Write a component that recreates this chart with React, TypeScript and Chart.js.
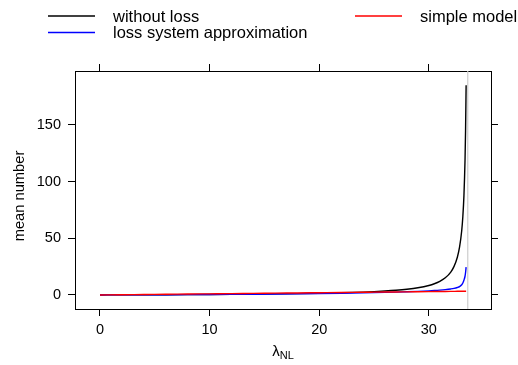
import React, { useEffect, useRef } from "react";
import { Chart, registerables } from "chart.js";

Chart.register(...registerables);

const lambdaValues = [0, 2, 4, 6, 8, 10, 12, 14, 16, 18, 20, 22, 24, 25, 26, 27, 28, 29, 30, 30.5, 31, 31.5, 32, 32.3, 32.6, 32.8, 33, 33.1, 33.2, 33.3, 33.35, 33.4];
const withoutLoss = [0, 0.063, 0.135, 0.218, 0.313, 0.424, 0.556, 0.715, 0.91, 1.155, 1.473, 1.9, 2.5, 2.91, 3.43, 4.1, 5.02, 6.33, 8.38, 9.9, 12.0, 15.1, 20.2, 25.2, 33.3, 42.1, 56.9, 69.0, 87.4, 118.9, 145.0, 185.0];
const lossApprox = [0, 0.06, 0.13, 0.21, 0.3, 0.41, 0.53, 0.67, 0.83, 1.02, 1.25, 1.52, 1.85, 2.05, 2.27, 2.52, 2.82, 3.18, 3.62, 3.9, 4.25, 4.7, 5.3, 5.8, 6.6, 7.4, 9.0, 10.5, 13.0, 16.5, 19.8, 24.5];
const simpleModel = [0, 0.2, 0.39, 0.59, 0.78, 0.98, 1.18, 1.37, 1.57, 1.76, 1.96, 2.16, 2.35, 2.45, 2.55, 2.65, 2.74, 2.84, 2.94, 2.99, 3.04, 3.09, 3.14, 3.17, 3.2, 3.21, 3.23, 3.24, 3.25, 3.26, 3.27, 3.27];
const capacityLimit = 33.55;

const seriesNames = ["without loss", "loss system approximation", "simple model"];
const seriesColors = ["#000000", "#0000ff", "#ff0000"];
const yTickValues = [0, 50, 100, 150];
const xTickValues = [0, 10, 20, 30];
const xRange = [-2.28, 35.67];
const yRange = [-12.4, 197.6];
const xTitle = "λ";
const xTitleSub = "NL";
const yTitle = "mean number";

const FONT = "'Liberation Sans', Arial, Helvetica, sans-serif";

const decorPlugin = {
  id: "decor",
  afterDraw(chart: any) {
    const ctx = chart.ctx;
    ctx.save();
    // legend
    const items = [
      { x: 48, y: 16, name: seriesNames[0], color: seriesColors[0] },
      { x: 48, y: 32.5, name: seriesNames[1], color: seriesColors[1] },
      { x: 355, y: 16, name: seriesNames[2], color: seriesColors[2] },
    ];
    ctx.font = `16.5px ${FONT}`;
    ctx.textBaseline = "middle";
    ctx.textAlign = "left";
    for (const it of items) {
      ctx.strokeStyle = it.color;
      ctx.lineWidth = 1.5;
      ctx.beginPath();
      ctx.moveTo(it.x, it.y);
      ctx.lineTo(it.x + 47, it.y);
      ctx.stroke();
      ctx.fillStyle = "#000";
      ctx.fillText(it.name, it.x + 65, it.y + 1);
    }
    // x title with subscript
    const area = chart.chartArea;
    const cx = (area.left + area.right) / 2;
    ctx.font = `15px ${FONT}`;
    const w1 = ctx.measureText(xTitle).width;
    ctx.font = `11px ${FONT}`;
    const w2 = ctx.measureText(xTitleSub).width;
    const start = cx - (w1 + w2) / 2;
    ctx.textBaseline = "alphabetic";
    ctx.font = `15px ${FONT}`;
    ctx.fillText(xTitle, start, 356);
    ctx.font = `11px ${FONT}`;
    ctx.fillText(xTitleSub, start + w1, 359);
    // y title
    ctx.translate(20, 196);
    ctx.rotate(-Math.PI / 2);
    ctx.font = `14.7px ${FONT}`;
    ctx.textAlign = "center";
    ctx.textBaseline = "middle";
    ctx.fillText(yTitle, 0, 0);
    ctx.restore();
  },
};

const axisGrid = {
  display: true,
  drawOnChartArea: false,
  drawTicks: true,
  tickLength: 7,
  color: "#000",
  lineWidth: 1,
};

export default function App() {
  const ref = useRef<HTMLCanvasElement>(null);
  useEffect(() => {
    if (!ref.current) return;
    const mk = (ys: number[]) => lambdaValues.map((x, i) => ({ x, y: ys[i] }));
    const chart = new Chart(ref.current, {
      type: "line",
      data: {
        datasets: [
          { label: seriesNames[0], data: mk(withoutLoss), borderColor: seriesColors[0], borderWidth: 1.4, pointRadius: 0, cubicInterpolationMode: "monotone", order: 3 },
          { label: seriesNames[1], data: mk(lossApprox), borderColor: seriesColors[1], borderWidth: 1.4, pointRadius: 0, cubicInterpolationMode: "monotone", order: 2 },
          { label: seriesNames[2], data: mk(simpleModel), borderColor: seriesColors[2], borderWidth: 1.4, pointRadius: 0, cubicInterpolationMode: "monotone", order: 1 },
          { label: "limit", data: [{ x: capacityLimit, y: yRange[0] }, { x: capacityLimit, y: yRange[1] }], borderColor: "#cccccc", borderWidth: 1.2, pointRadius: 0, order: 4 },
        ],
      },
      options: {
        responsive: false,
        animation: false,
        events: [],
        layout: { padding: 0 },
        plugins: { legend: { display: false }, tooltip: { enabled: false } },
        scales: {
          x: {
            type: "linear", position: "bottom", min: xRange[0], max: xRange[1],
            afterBuildTicks: (s: any) => { s.ticks = xTickValues.map((v) => ({ value: v })); },
            afterFit: (s: any) => { s.height = 56; },
            grid: axisGrid,
            border: { display: true, color: "#000", width: 1 },
            ticks: { color: "#000", font: { family: FONT, size: 14.5 }, padding: 5, maxRotation: 0 },
          },
          x2: {
            type: "linear", position: "top", min: xRange[0], max: xRange[1],
            afterBuildTicks: (s: any) => { s.ticks = xTickValues.map((v) => ({ value: v })); },
            afterFit: (s: any) => { s.height = 71; },
            grid: axisGrid,
            border: { display: true, color: "#000", width: 1 },
            ticks: { display: false },
          },
          y: {
            type: "linear", position: "left", min: yRange[0], max: yRange[1],
            afterBuildTicks: (s: any) => { s.ticks = yTickValues.map((v) => ({ value: v })); },
            afterFit: (s: any) => { s.width = 75; },
            grid: axisGrid,
            border: { display: true, color: "#000", width: 1 },
            ticks: { color: "#000", font: { family: FONT, size: 14.5 }, padding: 7 },
          },
          y2: {
            type: "linear", position: "right", min: yRange[0], max: yRange[1],
            afterBuildTicks: (s: any) => { s.ticks = yTickValues.map((v) => ({ value: v })); },
            afterFit: (s: any) => { s.width = 27; },
            grid: axisGrid,
            border: { display: true, color: "#000", width: 1 },
            ticks: { display: false },
          },
        },
      },
      plugins: [decorPlugin],
    } as any);
    return () => chart.destroy();
  }, []);
  return (
    <div style={{ position: "fixed", left: 0, top: 0, width: 518, height: 365, background: "#fff" }}>
      <canvas ref={ref} width={518} height={365} style={{ display: "block" }} />
    </div>
  );
}
